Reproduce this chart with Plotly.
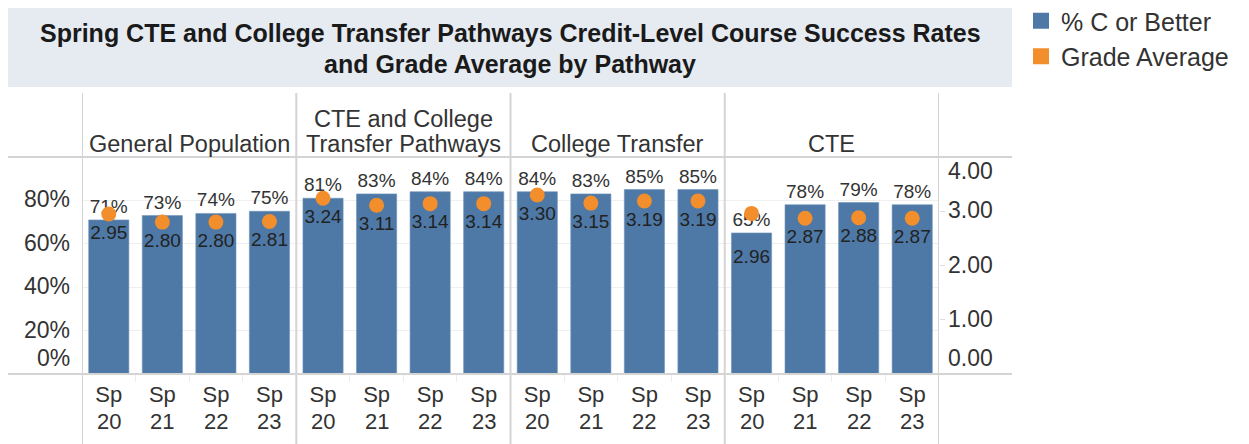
import plotly.graph_objects as go

# ---------------- data ----------------
pathways = ["General Population", "CTE and College Transfer Pathways", "College Transfer", "CTE"]
pathway_header_lines = [["General Population"], ["CTE and College", "Transfer Pathways"], ["College Transfer"], ["CTE"]]
terms = ["20", "21", "22", "23"]
term_prefix = "Sp"

pct_c_or_better = {
    "General Population": [0.71, 0.73, 0.74, 0.75],
    "CTE and College Transfer Pathways": [0.81, 0.83, 0.84, 0.84],
    "College Transfer": [0.84, 0.83, 0.85, 0.85],
    "CTE": [0.65, 0.78, 0.79, 0.78],
}
grade_average = {
    "General Population": [2.95, 2.80, 2.80, 2.81],
    "CTE and College Transfer Pathways": [3.24, 3.11, 3.14, 3.14],
    "College Transfer": [3.30, 3.15, 3.19, 3.19],
    "CTE": [2.96, 2.87, 2.88, 2.87],
}
left_ticks = [0.0, 0.2, 0.4, 0.6, 0.8]
right_ticks = [0, 1, 2, 3, 4]
title_lines = ["Spring CTE and College Transfer Pathways Credit-Level Course Success Rates",
               "and Grade Average by Pathway"]

# ---------------- styling ----------------
OFF = 8                      # browser body margin
W, H = 1249 - OFF, 444 - OFF  # figure size
PL, PR, PT, PB = 82, 939, 157, 374   # plot area in page pixels
BLUE = "#4E79A7"
ORANGE = "#F28E2B"
FONT = "Liberation Sans, Arial, sans-serif"
TXT = "#333333"
LINE = "#d4d4d4"

def px_x(px):
    return (px - PL) / (PR - PL)

def px_y(py):
    return (PB - py) / (PB - PT)

n_terms = len(terms)
xs, pct, ga = [], [], []
for i, p in enumerate(pathways):
    for j in range(n_terms):
        xs.append(i * n_terms + j)
        pct.append(pct_c_or_better[p][j])
        ga.append(grade_average[p][j])

# grade label pushed below the bar label when the dot sits well above the bar top
ga_text = [(f"<br>{g:.2f}" if g / 4 - p > 0.05 else f"{g:.2f}") for g, p in zip(ga, pct)]

fig = go.Figure()
fig.add_trace(go.Bar(
    x=xs, y=pct, width=0.75, name="% C or Better", legendgroup="pct", showlegend=False,
    marker=dict(color=BLUE, line=dict(color="#6f93bb", width=0.6)),
    texttemplate="%{y:.0%}", textposition="outside",
    textfont=dict(size=19, color=TXT, family=FONT), cliponaxis=False,
))
fig.add_trace(go.Scatter(
    x=xs, y=ga, yaxis="y2", mode="markers+text", name="Grade Average",
    legendgroup="ga", showlegend=False,
    marker=dict(size=15, color=ORANGE),
    text=ga_text, textposition="bottom center",
    textfont=dict(size=19, color="#222222", family=FONT), cliponaxis=False,
))
# legend swatches (squares as in the original)
fig.add_trace(go.Scatter(x=[None], y=[None], mode="markers", name="% C or Better",
                         legendgroup="pct", marker=dict(symbol="square", size=16, color=BLUE)))
fig.add_trace(go.Scatter(x=[None], y=[None], mode="markers", name="Grade Average",
                         legendgroup="ga", marker=dict(symbol="square", size=16, color=ORANGE)))

shapes = []
annotations = []

# title box
shapes.append(dict(type="rect", xref="paper", yref="paper", x0=px_x(7), x1=px_x(1012),
                   y0=px_y(87), y1=px_y(8), fillcolor="#E6EBF2", line=dict(width=0), layer="below"))
for line_txt, ypx in zip(title_lines, [33, 64]):
    annotations.append(dict(xref="paper", yref="paper", x=px_x(510), y=px_y(ypx), text=f"<b>{line_txt}</b>",
                            showarrow=False, xanchor="center", yanchor="middle",
                            font=dict(size=25, color="#1a1a1a", family=FONT)))

# horizontal frame lines
for ypx in [PT, PB]:
    shapes.append(dict(type="line", xref="paper", yref="paper", x0=px_x(7), x1=px_x(1012),
                       y0=px_y(ypx), y1=px_y(ypx), line=dict(color=LINE, width=2)))
# vertical pane dividers
for b in range(len(pathways) + 1):
    xb = b * n_terms - 0.5
    shapes.append(dict(type="line", xref="x", yref="paper", x0=xb, x1=xb,
                       y0=px_y(93), y1=px_y(460), line=dict(color=LINE, width=2)))

# pane headers
for i, lines in enumerate(pathway_header_lines):
    xc = i * n_terms + (n_terms - 1) / 2
    for k, line_txt in enumerate(reversed(lines)):
        annotations.append(dict(xref="x", yref="paper", x=xc, y=px_y(144 - 25 * k), text=line_txt,
                                showarrow=False, xanchor="center", yanchor="middle",
                                font=dict(size=23.5, color=TXT, family=FONT)))

# x labels second row (years)
for x in xs:
    annotations.append(dict(xref="x", yref="paper", x=x, y=px_y(421), text=terms[x % n_terms],
                            showarrow=False, xanchor="center", yanchor="middle",
                            font=dict(size=22, color=TXT, family=FONT)))

# left axis labels
for v in left_ticks:
    annotations.append(dict(xref="paper", yref="y", x=0, y=v, text=f"{v:.0%}", showarrow=False,
                            xanchor="right", yanchor="middle", xshift=-10,
                            yshift=16 if v == 0 else 1,
                            font=dict(size=23, color=TXT, family=FONT)))
# right axis labels
for v in right_ticks:
    annotations.append(dict(xref="paper", yref="y2", x=1, y=v, text=f"{v:.2f}", showarrow=False,
                            xanchor="left", yanchor="middle", xshift=7,
                            yshift=16 if v == 0 else (-14 if v == 4 else 1),
                            font=dict(size=23, color=TXT, family=FONT)))

minor_vals = [x + 0.5 for x in xs if (x + 1) % n_terms != 0]

fig.update_layout(
    width=W, height=H,
    margin=dict(l=PL - OFF, r=W - (PR - OFF), t=PT - OFF, b=H - (PB - OFF), pad=0, autoexpand=False),
    paper_bgcolor="white", plot_bgcolor="white",
    font=dict(family=FONT, color=TXT),
    xaxis=dict(range=[-0.5, len(xs) - 0.5], tickvals=xs, ticktext=[term_prefix] * len(xs),
               tickfont=dict(size=22, color=TXT, family=FONT), ticks="", showgrid=False,
               zeroline=False, showline=False, ticklabelstandoff=5, automargin=False,
               minor=dict(tickvals=minor_vals, ticks="outside", ticklen=7, tickcolor="#ececec", showgrid=False)),
    yaxis=dict(range=[0, 1], tickvals=left_ticks[1:], showticklabels=False, showgrid=True,
               gridcolor="#efefef", gridwidth=1, zeroline=False, showline=False, ticks="", automargin=False),
    yaxis2=dict(range=[0, 4], overlaying="y", side="right", tickvals=[1, 2, 3], showticklabels=False,
                ticks="outside", ticklen=5, tickcolor="#dddddd", showgrid=False, zeroline=False,
                showline=False, automargin=False),
    legend=dict(x=px_x(1021), y=px_y(-2), xanchor="left", yanchor="top",
                font=dict(size=25, color=TXT, family=FONT), bgcolor="rgba(0,0,0,0)",
                itemclick=False, tracegroupgap=0, traceorder="normal"),
    shapes=shapes, annotations=annotations,
)

fig.write_html("out.html")
